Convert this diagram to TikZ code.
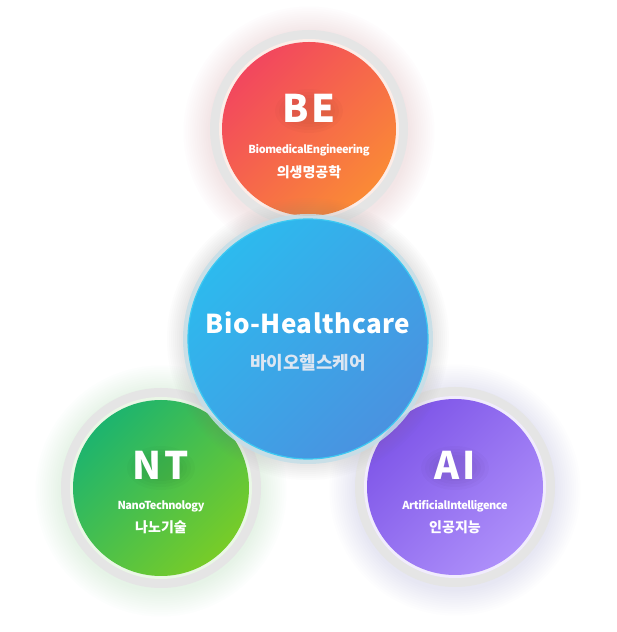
\documentclass[tikz,border=0pt]{standalone}
\usepackage{fontspec}
\setmainfont{Noto Sans CJK KR}
\usetikzlibrary{calc}
\definecolor{beA}{HTML}{F2475E}
\definecolor{beB}{HTML}{FA8A36}
\definecolor{bePale}{HTML}{FCEDE8}
\definecolor{beGlow}{HTML}{E0A8B2}
\definecolor{ntA}{HTML}{1DB46E}
\definecolor{ntB}{HTML}{78CC28}
\definecolor{ntPale}{HTML}{EAF7E6}
\definecolor{ntGlow}{HTML}{A8D8BC}
\definecolor{aiA}{HTML}{7E55E8}
\definecolor{aiB}{HTML}{AE90FA}
\definecolor{aiPale}{HTML}{F1ECFD}
\definecolor{aiGlow}{HTML}{BCAEE6}
\definecolor{bhA}{HTML}{2DBAEE}
\definecolor{bhB}{HTML}{4A92E0}
\definecolor{bhEdge}{HTML}{3CC9F2}
\definecolor{bhRing}{HTML}{C4DEE8}
\definecolor{ringGray}{HTML}{E5E5E5}
\definecolor{bhKor}{HTML}{DCE6F2}
\tikzset{
  disc/.style={circle, inner sep=0pt, minimum size=#1, draw=none},
  bigtxt/.style={white, inner sep=0pt, font=\bfseries\fontsize{38}{38}\selectfont\addfontfeature{LetterSpace=7}},
  subtxt/.style={white, inner sep=0pt, font=\bfseries\fontsize{11}{11}\selectfont\addfontfeature{LetterSpace=-4}},
  kortxt/.style={white, inner sep=0pt, font=\bfseries\fontsize{14}{14}\selectfont},
}
\newcommand\myglow[2]{%
  \foreach \k in {1,...,12} {\fill[#2, opacity=0.022] ($(#1)+(0,-3)$) circle ({99+2.2*\k});}%
}
\begin{document}
\begin{tikzpicture}[x=1pt,y=1pt]
\useasboundingbox (0,0) rectangle (617,632);
\fill[white] (0,0) rectangle (617,632);
\coordinate (cBE) at (309,503);
\coordinate (cNT) at (161,144);
\coordinate (cAI) at (455,145);
\coordinate (cBH) at (308,293);

% glows
\myglow{cBE}{beGlow}
\myglow{cNT}{ntGlow}
\myglow{cAI}{aiGlow}

% BE
\fill[ringGray] (cBE) circle (99);
\fill[bePale] (cBE) circle (90);
\node[disc=174pt, top color=beA, bottom color=beB, shading angle=45] (be) at (cBE) {};
% NT
\fill[ringGray] (cNT) circle (100);
\fill[ntPale] (cNT) circle (91);
\node[disc=176pt, top color=ntA, bottom color=ntB, shading angle=45] (nt) at (cNT) {};
% AI
\fill[ringGray] (cAI) circle (100);
\fill[aiPale] (cAI) circle (91);
\node[disc=176pt, top color=aiA, bottom color=aiB, shading angle=45] (ai) at (cAI) {};

% center
\foreach \k in {1,...,8} {\fill[gray, opacity=0.02] (cBH) circle ({125+2*\k});}
\fill[bhRing, opacity=0.85] (cBH) circle (125);
\node[disc=240pt, top color=bhA, bottom color=bhB, shading angle=45, draw=bhEdge, line width=1.2pt] (bh) at (cBH) {};

% soft shadows under the big letters
\foreach \c in {(309,521),(161,164),(455,164)} {
  \foreach \k in {1,...,4} {\fill[black, opacity=0.018] \c ellipse ({18+4*\k} and {10+3*\k});}
}

% texts BE
\node[bigtxt] (beT) at (309,524) {BE};
\node[subtxt] (beSub) at (309,482) {BiomedicalEngineering};
\node[kortxt] (beKor) at (309,460) {의생명공학};
% NT
\node[bigtxt] (ntT) at (161,167) {NT};
\node[subtxt] (ntSub) at (161,126) {NanoTechnology};
\node[kortxt] (ntKor) at (161,105) {나노기술};
% AI
\node[bigtxt] (aiT) at (455,167) {AI};
\node[subtxt] (aiSub) at (455,126) {ArtificialIntelligence};
\node[kortxt] (aiKor) at (455,105) {인공지능};
% center
\node[white, inner sep=0pt, font=\bfseries\fontsize{26}{26}\selectfont\addfontfeature{LetterSpace=2}] (bhT) at (308,309) {Bio-Healthcare};
\node[bhKor, inner sep=0pt, font=\bfseries\fontsize{18}{18}\selectfont] (bhKorT) at (308,269) {바이오헬스케어};
\end{tikzpicture}
\end{document}
